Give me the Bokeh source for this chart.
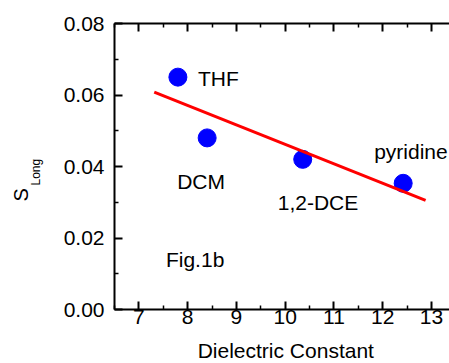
from bokeh.plotting import figure
from bokeh.layouts import row, column
from bokeh.models import (LinearAxis, FixedTicker, PrintfTickFormatter, Label,
                          ColumnDataSource, CustomJSTickFormatter)
from bokeh.core.properties import value
from bokeh.embed import file_html
from bokeh.resources import INLINE
import math

# ---- data ----
solvents = ["THF", "DCM", "1,2-DCE", "pyridine"]
dielectric = [7.8, 8.4, 10.36, 12.42]
s_long = [0.065, 0.048, 0.042, 0.0353]
fit_x = [7.315, 12.88]
fit_y = [0.0608, 0.0305]
x_ticks = [7, 8, 9, 10, 11, 12, 13]
x_minor = [6.5, 7.5, 8.5, 9.5, 10.5, 11.5, 12.5, 13.5]
y_ticks = [0.0, 0.02, 0.04, 0.06, 0.08]
y_minor = [0.01, 0.03, 0.05, 0.07]
x_title = "Dielectric Constant"
y_title = "S"
y_title_sub = "Long"
panel_note = "Fig.1b"

# label offsets (screen px from point centre to text left/baseline)
label_dx = [20, -30, -25, -29]
label_dy = [1, 44, 43, -32]

FONT = "Liberation Sans"
FS = "21px"
LEFT_W = 52
BOTTOM_H = 26
W, H = 449, 363

def blank_fig(w, h):
    f = figure(width=w, height=h, x_range=(0, w), y_range=(h, 0),
               output_backend="svg", toolbar_location=None,
               min_border=0, x_axis_type=None, y_axis_type=None)
    f.outline_line_color = None
    f.xgrid.visible = False
    f.ygrid.visible = False
    return f

p = figure(width=W - LEFT_W, height=H - BOTTOM_H, x_range=(6.5, 13.37), y_range=(0, 0.08),
           output_backend="svg", toolbar_location=None,
           min_border_left=114 - LEFT_W, min_border_right=0, min_border_top=23,
           min_border_bottom=28)
p.outline_line_color = None
p.xgrid.visible = False
p.ygrid.visible = False

def style_axis(ax, ticks, minor):
    ax.ticker = FixedTicker(ticks=ticks, minor_ticks=minor)
    ax.axis_line_width = 2
    ax.axis_line_color = "black"
    ax.major_tick_in = 8
    ax.major_tick_out = 0
    ax.minor_tick_in = 4
    ax.minor_tick_out = 0
    ax.major_tick_line_width = 2
    ax.minor_tick_line_width = 1.5
    ax.major_label_text_font = FONT
    ax.major_label_text_color = "black"
    ax.major_label_text_font_size = FS

xa = p.xaxis[0]
style_axis(xa, x_ticks, x_minor)
xa.formatter = PrintfTickFormatter(format="%d")
xa.major_label_standoff = 0

ya = p.yaxis[0]
style_axis(ya, y_ticks, y_minor)
ya.formatter = PrintfTickFormatter(format="%.2f")
ya.major_label_standoff = 10

top = LinearAxis()
style_axis(top, x_ticks, x_minor)
top.formatter = CustomJSTickFormatter(code="return ''")
top.major_label_standoff = 0
p.add_layout(top, "above")

p.scatter(dielectric, s_long, size=18, color="#0000FF", line_color="#0000FF")
p.line(fit_x, fit_y, line_width=3, line_color="#FF0000")

src = ColumnDataSource(dict(x=dielectric, y=s_long, t=solvents, dx=label_dx, dy=label_dy))
p.text(x="x", y="y", text="t", x_offset="dx", y_offset="dy", source=src,
       text_font=value(FONT), text_font_size=value(FS), text_color="black",
       text_align="left", text_baseline="alphabetic")

p.add_layout(Label(x=7.555, y=0.0140, text=panel_note, text_font=FONT,
                   text_font_size=FS, text_color="black",
                   text_align="left", text_baseline="alphabetic"))

# left strip with the rotated y title (S with subscript Long)
left = blank_fig(LEFT_W, H)
left.text(x=[20], y=[201], text=[y_title], angle=math.pi / 2,
          text_font=value(FONT), text_font_size=value("20px"), text_color="black",
          text_align="left", text_baseline="alphabetic")
left.text(x=[35], y=[185], text=[y_title_sub], angle=math.pi / 2,
          text_font=value(FONT), text_font_size=value("12px"), text_color="black",
          text_align="left", text_baseline="alphabetic")

# bottom strip with the x title
bottom = blank_fig(W - LEFT_W, BOTTOM_H)
bottom.text(x=[203], y=[13], text=[x_title],
            text_font=value(FONT), text_font_size=value(FS), text_color="black",
            text_align="center", text_baseline="alphabetic")

layout = row(left, column(p, bottom, spacing=0), spacing=0)

open("out.html", "w").write(file_html(layout, INLINE))
